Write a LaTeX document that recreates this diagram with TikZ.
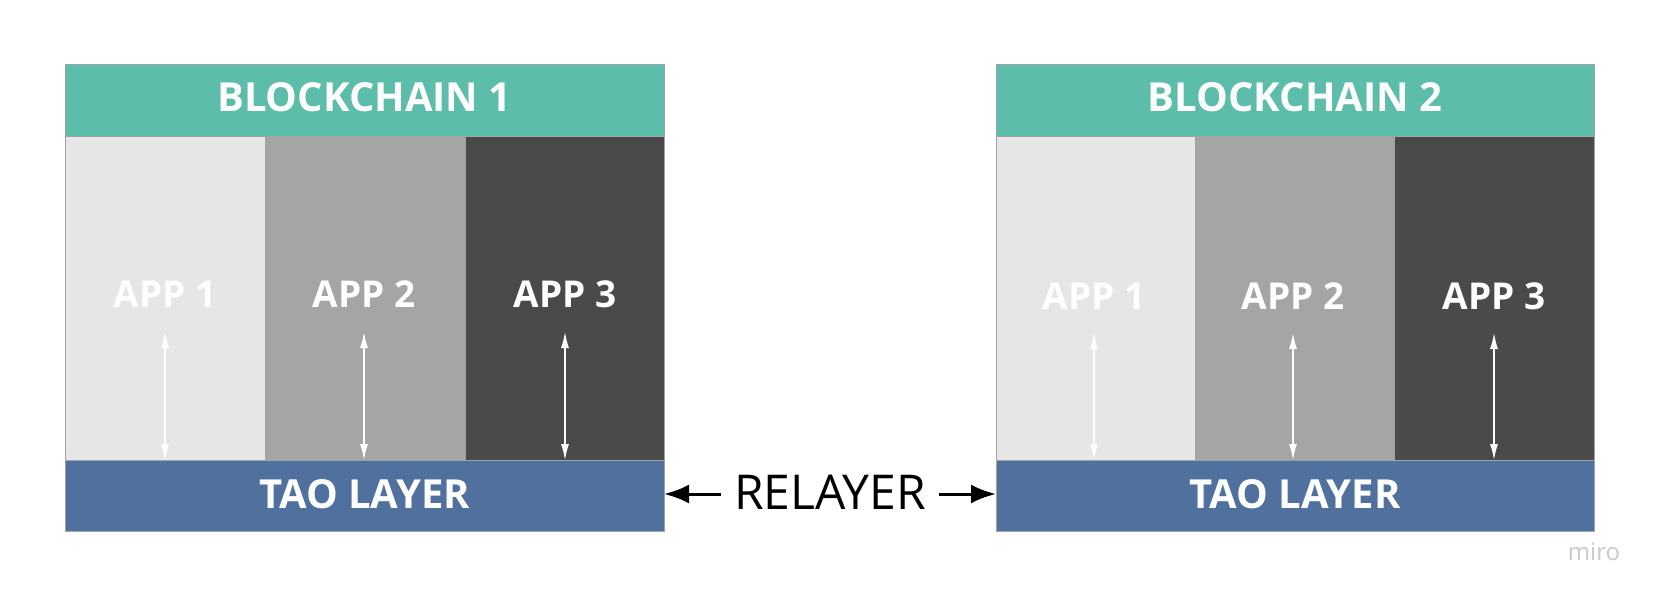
\documentclass[tikz,border=0pt]{standalone}
\usepackage{fontspec}
\setmainfont{Open Sans}
\usetikzlibrary{arrows.meta}
\definecolor{teal1}{HTML}{5CBDAA}
\definecolor{appA}{HTML}{E6E6E6}
\definecolor{appB}{HTML}{A5A5A5}
\definecolor{appC}{HTML}{4A4A4A}
\definecolor{tao}{HTML}{50709E}
\definecolor{edge}{HTML}{A0A4A8}
\definecolor{mirogray}{HTML}{C5C9D3}
\tikzset{
  box/.style={draw=edge, line width=1pt, inner sep=0pt, outer sep=0pt, anchor=north west},
  boldlbl/.style={text=white, font=\fontsize{40}{44}\selectfont\bfseries},
  applbl/.style={text=white, font=\fontsize{37}{40}\selectfont\bfseries},
  updown/.style={white, line width=1.4pt, {Latex[length=16pt,width=8pt]}-{Latex[length=16pt,width=8pt]}},
  relay/.style={black, line width=3pt, -{Latex[length=25pt,width=19pt]}},
}
\begin{document}
\begin{tikzpicture}[x=1pt,y=-1pt]
\useasboundingbox[fill=white] (0,0) rectangle (1661,601);
% ---------- Blockchain 1 ----------
\node[box, fill=appA, minimum width=200pt, minimum height=323pt] (b1a1) at (65,137) {};
\node[box, fill=appB, minimum width=200pt, minimum height=323pt] (b1a2) at (265,137) {};
\node[box, fill=appC, minimum width=199pt, minimum height=323pt] (b1a3) at (465,137) {};
\node[box, fill=teal1, minimum width=599pt, minimum height=72pt] (b1h) at (65,65) {};
\node[box, fill=tao, minimum width=599pt, minimum height=71pt] (b1t) at (65,460) {};
\node[boldlbl] (b1ht) at (364.5,97) {BLOCKCHAIN 1};
\node[boldlbl] (b1tt) at (364.5,494) {TAO LAYER};
\node[applbl] (b1l1) at (165,294) {APP 1};
\node[applbl] (b1l2) at (364,294) {APP 2};
\node[applbl] (b1l3) at (565,294) {APP 3};
\coordinate (b1c1) at (165,332);
\coordinate (b1c2) at (364,332);
\coordinate (b1c3) at (565,332);
\draw[updown] (b1c1) -- (b1t.north -| b1c1);
\draw[updown] (b1c2) -- (b1t.north -| b1c2);
\draw[updown] (b1c3) -- (b1t.north -| b1c3);
% ---------- Blockchain 2 ----------
\node[box, fill=appA, minimum width=199pt, minimum height=323pt] (b2a1) at (996,137) {};
\node[box, fill=appB, minimum width=199pt, minimum height=323pt] (b2a2) at (1195,137) {};
\node[box, fill=appC, minimum width=200pt, minimum height=323pt] (b2a3) at (1394,137) {};
\node[box, fill=teal1, minimum width=598pt, minimum height=72pt] (b2h) at (996,65) {};
\node[box, fill=tao, minimum width=598pt, minimum height=71pt] (b2t) at (996,460) {};
\node[boldlbl] (b2ht) at (1295,97) {BLOCKCHAIN 2};
\node[boldlbl] (b2tt) at (1295,494) {TAO LAYER};
\node[applbl] (b2l1) at (1094,296) {APP 1};
\node[applbl] (b2l2) at (1293,296) {APP 2};
\node[applbl] (b2l3) at (1494,296) {APP 3};
\coordinate (b2c1) at (1094,333);
\coordinate (b2c2) at (1293,333);
\coordinate (b2c3) at (1494,333);
\draw[updown] (b2c1) -- (b2t.north -| b2c1);
\draw[updown] (b2c2) -- (b2t.north -| b2c2);
\draw[updown] (b2c3) -- (b2t.north -| b2c3);
% ---------- Relayer ----------
\node[font=\fontsize{48}{52}\selectfont] (rel) at (830,492) {RELAYER};
\coordinate (rl) at (721,494);
\coordinate (rr) at (939,494);
\draw[relay] (rl) -- (b1t.east |- rl);
\draw[relay] (rr) -- (b2t.west |- rr);
% ---------- watermark ----------
\node[text=mirogray, font=\fontsize{24}{26}\selectfont] (miro) at (1594,552) {miro};
\end{tikzpicture}
\end{document}
